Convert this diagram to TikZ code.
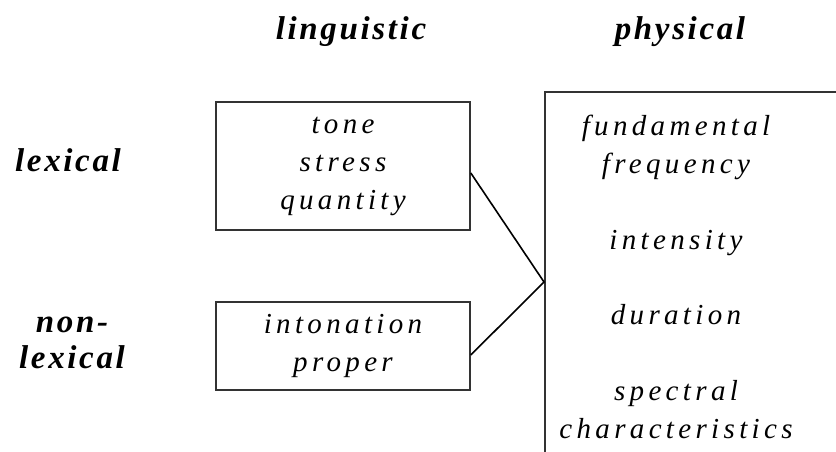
\documentclass[tikz,border=0pt]{standalone}
\usepackage{fontspec}
\setmainfont{Liberation Serif}
\newfontfamily\wide[LetterSpace=15]{Liberation Serif}
\newfontfamily\head[LetterSpace=8]{Liberation Serif}
\usetikzlibrary{positioning}

\begin{document}
\begin{tikzpicture}[x=1pt,y=-1pt,
    every node/.style={inner sep=0pt,font=\fontsize{29}{38}\wide\itshape},
    hd/.style={font=\fontsize{33}{36}\head\bfseries\itshape,align=center},
    box/.style={draw=black!80,line width=1.6pt,align=center,minimum width=254pt}]
  \useasboundingbox (0,0) rectangle (836,452);
  \clip (0,0) rectangle (836,452);
  % column and row headings
  \node[hd] (ling) at (351,32) {linguistic};
  \node[hd] (phys) at (680,32) {physical};
  \node[hd] (lex) at (68,160) {lexical};
  \node[hd] (nonlex) at (72,343) {non-\\lexical};
  % linguistic boxes
  \node[box,minimum height=128pt] (q_1) at (343,166) {tone\\stress\\quantity};
  \node[box,minimum height=88pt] (q_2) at (343,346) {intonation\\proper};
  % physical box, runs off the page
  \node[draw=black!80,line width=1.6pt,minimum width=320pt,minimum height=380pt,
        anchor=west] (q_3) at (544,282) {};
  \node[align=center] (cues) at (676,277)
    {fundamental\\frequency\\[38pt]intensity\\[37pt]duration\\[38pt]spectral\\characteristics};
  \draw[line width=1.6pt] ([yshift=-7pt]q_1.east) -- (q_3.west) -- ([yshift=-9pt]q_2.east);
\end{tikzpicture}
\end{document}
